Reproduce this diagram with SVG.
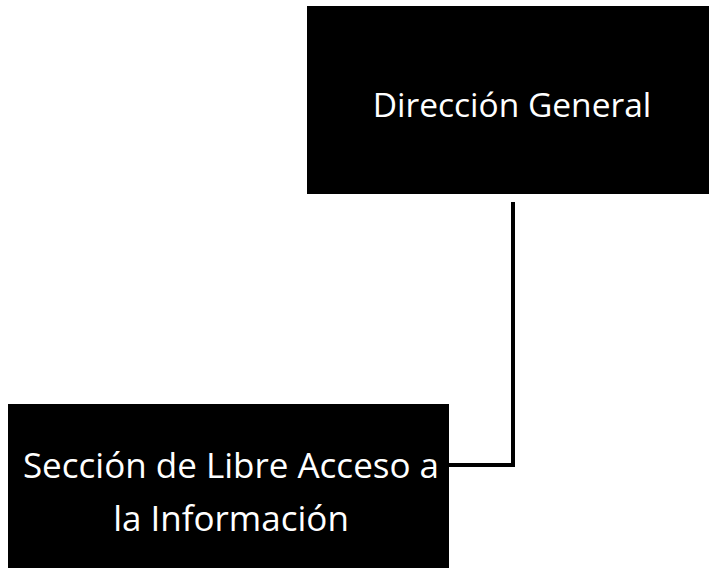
<svg xmlns="http://www.w3.org/2000/svg" width="709" height="578" viewBox="0 0 709 578">
<style>
.box{fill:#000;}
.lbl{fill:#fff;font-family:"Open Sans","Noto Sans",sans-serif;text-anchor:middle;}
.conn{fill:none;stroke:#000;stroke-width:4;}
</style>
<rect width="709" height="578" fill="#fff"/>
<g id="direccion-general">
<rect class="box" x="307" y="6" width="402" height="188"/>
<text class="lbl" x="512" y="117" font-size="33.5">Dirección General</text>
</g>
<g id="seccion-libre-acceso">
<rect class="box" x="8" y="404" width="441" height="164"/>
<text class="lbl" x="231" y="478" font-size="35">Sección de Libre Acceso a</text>
<text class="lbl" x="231" y="531" font-size="35">la Información</text>
</g>
<g id="connectors">
<path class="conn" d="M513 202 V465 H449"/>
</g>
</svg>
